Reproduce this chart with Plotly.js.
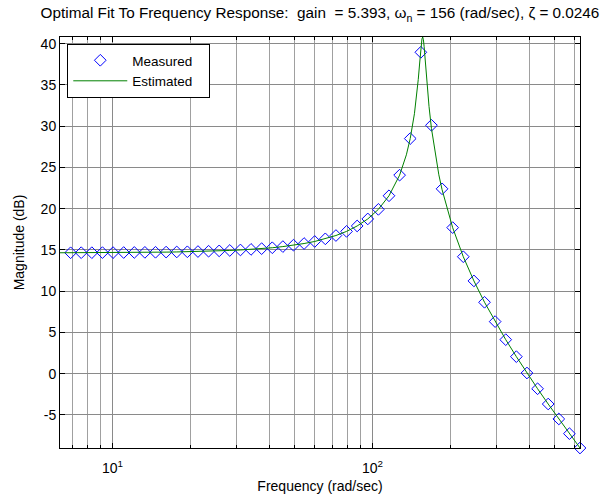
<!DOCTYPE html>
<html>
<head>
<meta charset="utf-8">
<script src="https://cdn.plot.ly/plotly-3.0.1.min.js"></script>
<style>html,body{margin:0;padding:0;background:#fff;}#chart{width:607px;height:496px;}</style>
</head>
<body>
<div id="chart"></div>
<script>
// Measured frequencies (rad/sec) and magnitudes (dB)
var measuredFreq = [6.283, 6.902, 7.582, 8.330, 9.150, 10.052, 11.043, 12.131, 13.326, 14.639,
  16.082, 17.667, 19.408, 21.321, 23.422, 25.730, 28.266, 31.052, 34.112, 37.474,
  41.167, 45.224, 49.680, 54.576, 59.955, 65.864, 72.354, 79.485, 87.318, 95.923,
  105.376, 115.761, 127.169, 139.702, 153.469, 168.594, 185.209, 203.461, 223.512, 245.540,
  269.737, 296.319, 325.521, 357.601, 392.842, 431.557, 474.086, 520.806, 572.130, 628.32];
var measuredMag = [14.65, 14.65, 14.66, 14.66, 14.67, 14.67, 14.68, 14.69, 14.70, 14.71,
  14.73, 14.75, 14.77, 14.80, 14.84, 14.88, 14.93, 14.99, 15.06, 15.15,
  15.26, 15.40, 15.57, 15.77, 16.02, 16.34, 16.74, 17.24, 17.90, 18.75,
  19.91, 21.56, 24.06, 28.49, 38.95, 30.10, 22.40, 17.70, 14.17, 11.24,
  8.65, 6.31, 4.12, 2.06, 0.08, -1.83, -3.68, -5.49, -7.27, -9.01];

// Estimated (fitted) curve
var estFreq = [6.283, 6.902, 7.582, 8.330, 9.150, 10.052, 11.043, 12.131, 13.326, 14.639,
  16.082, 17.667, 19.408, 21.321, 23.422, 25.730, 28.266, 31.052, 34.112, 37.474,
  41.167, 45.224, 49.680, 54.576, 59.955, 65.864, 72.354, 79.485, 87.318, 95.923,
  105.376, 115.761, 127.169, 135, 139.702, 145, 148, 150, 152, 154, 155, 156, 157, 158,
  160, 162, 165, 168.594, 175, 180, 185.209, 203.461, 223.512, 245.540,
  269.737, 296.319, 325.521, 357.601, 392.842, 431.557, 474.086, 520.806, 572.130, 628.32];
var estMag = [14.65, 14.65, 14.66, 14.66, 14.67, 14.67, 14.68, 14.69, 14.70, 14.71,
  14.73, 14.75, 14.77, 14.80, 14.84, 14.88, 14.93, 14.99, 15.06, 15.15,
  15.26, 15.40, 15.57, 15.77, 16.02, 16.34, 16.74, 17.24, 17.90, 18.75,
  19.91, 21.56, 24.06, 26.52, 28.49, 31.50, 33.79, 35.65, 37.77, 39.85, 40.57, 40.80, 40.46, 39.66,
  37.44, 35.21, 32.38, 29.72, 26.20, 24.10, 22.30, 17.69, 14.17, 11.24,
  8.65, 6.31, 4.12, 2.06, 0.08, -1.83, -3.68, -5.49, -7.27, -9.01];

var xMajorTicks = [10, 100];
var xMajorText = ['10<sup>1</sup>', '10<sup>2</sup>'];
var xMinorTicks = [7, 8, 9, 20, 30, 40, 50, 60, 70, 80, 90, 200, 300, 400, 500, 600];
var yTicks = [-5, 0, 5, 10, 15, 20, 25, 30, 35, 40];
var yTickText = ['-5', '0', '5', '10', '15', '20', '25', '30', '35', '40'];

var FONT = 'Liberation Sans, Arial, Helvetica, sans-serif';

var traces = [
  {
    x: measuredFreq, y: measuredMag, name: 'Measured&nbsp;&nbsp;&nbsp;', type: 'scatter', mode: 'markers',
    marker: {symbol: 'diamond-open', size: 9, color: '#0000ff', line: {width: 1, color: '#0000ff'}},
    cliponaxis: false
  },
  {
    x: estFreq, y: estMag, name: 'Estimated&nbsp;&nbsp;&nbsp;', type: 'scatter', mode: 'lines',
    line: {color: '#008000', width: 1}
  }
];

var layout = {
  width: 607, height: 496,
  margin: {l: 60, r: 27, t: 37, b: 48, pad: 0},
  paper_bgcolor: '#ffffff', plot_bgcolor: '#ffffff',
  font: {family: FONT, size: 14, color: '#000'},
  title: {
    text: 'Optimal Fit To Frequency Response:&nbsp; gain&nbsp; = 5.393, ω<sub>n</sub> = 156 (rad/sec), ζ = 0.0246',
    font: {family: FONT, size: 15.3, color: '#000'},
    xref: 'paper', x: 0.5, xanchor: 'center',
    yref: 'container', y: 1 - 13/496, yanchor: 'middle'
  },
  showlegend: true,
  legend: {
    x: 0.014, y: 0.983, xanchor: 'left', yanchor: 'top',
    bgcolor: '#ffffff', bordercolor: '#000', borderwidth: 1,
    font: {family: FONT, size: 13.5, color: '#000'},
    itemwidth: 54, tracegroupgap: 0
  },
  xaxis: {
    type: 'log',
    range: [Math.log10(6.2832), Math.log10(628.32)],
    tickmode: 'array', tickvals: xMajorTicks, ticktext: xMajorText,
    ticks: 'inside', ticklen: 5, tickcolor: '#000', tickwidth: 1,
    showline: true, linecolor: '#000', linewidth: 1, mirror: 'allticks',
    showgrid: true, gridcolor: '#8a8a8a', gridwidth: 1,
    minor: {tickmode: 'array', tickvals: xMinorTicks, ticks: 'inside', ticklen: 3, tickcolor: '#000',
            showgrid: true, gridcolor: '#a0a0a0', gridwidth: 1},
    zeroline: false,
    ticklabelstandoff: 7,
    tickfont: {family: FONT, size: 14, color: '#000'},
    title: {text: 'Frequency (rad/sec)', font: {family: FONT, size: 14, color: '#000'}, standoff: 6}
  },
  yaxis: {
    range: [-9.01, 40.8],
    tickmode: 'array', tickvals: yTicks, ticktext: yTickText,
    ticks: 'inside', ticklen: 5, tickcolor: '#000', tickwidth: 1,
    showline: true, linecolor: '#000', linewidth: 1, mirror: 'allticks',
    showgrid: true, gridcolor: '#8a8a8a', gridwidth: 1,
    zeroline: false,
    tickfont: {family: FONT, size: 14, color: '#000'},
    title: {text: 'Magnitude (dB)', font: {family: FONT, size: 14, color: '#000'}, standoff: 12}
  }
};

Plotly.newPlot('chart', traces, layout, {staticPlot: true, displayModeBar: false});
</script>
</body>
</html>
